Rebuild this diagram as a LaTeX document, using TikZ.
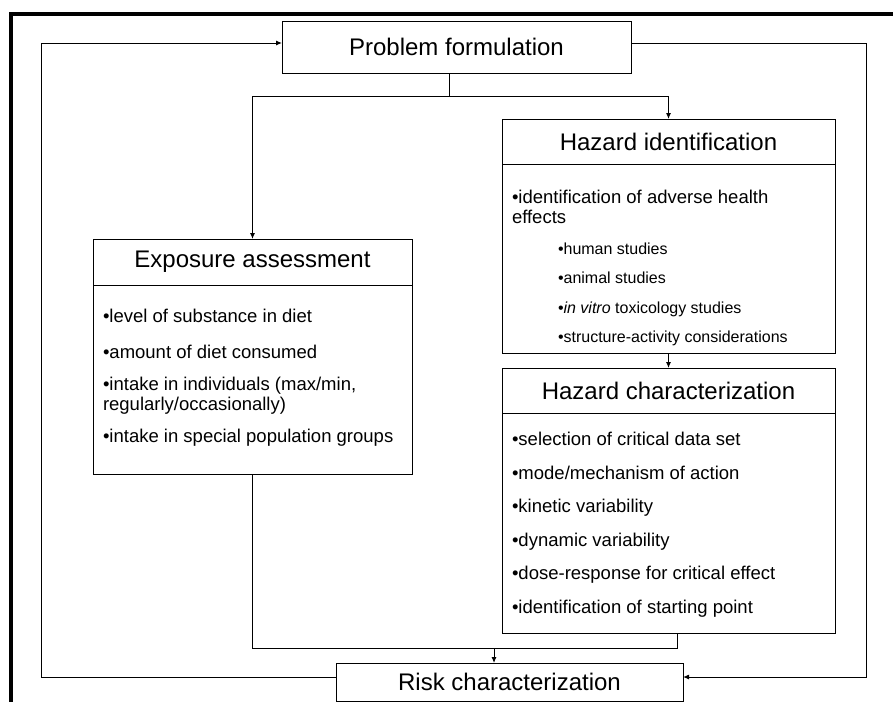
\documentclass[tikz,border=0pt]{standalone}
\usepackage{fontspec}
\setmainfont{Liberation Sans}
\usetikzlibrary{arrows.meta}

\begin{document}
\begin{tikzpicture}[x=1pt,y=-1pt,line width=1pt]
    \tikzstyle{every node}=[inner sep=0pt, outer sep=0pt]
    \tikzstyle{box}=[draw, rectangle, anchor=north west]
    \tikzstyle{head}=[box, font=\fontsize{24}{28}\selectfont]
    \tikzstyle{items}=[anchor=north west, align=left, font=\fontsize{18.5}{20}\selectfont]
    \tikzstyle{subitems}=[anchor=north west, align=left, font=\fontsize{16}{29.3}\selectfont]
    \tikzstyle{arr}=[-{Latex[length=6pt,width=5pt]}]

    \useasboundingbox (0,0) rectangle (893,702);

    \def\lw{319} % left column width
    \def\rw{333} % right column width

    % outer frame (only top and left show)
    \draw[line width=4pt] (893,14) -- (11,14) -- (11,702);

    \node[head, minimum width=349, minimum height=52] (prob) at (282,21) {Problem formulation};
    \node[head, minimum width=347, minimum height=38] (risk) at (336,663) {Risk characterization};

    % Exposure assessment
    \node[head, minimum width=\lw, minimum height=46] (expH) at (93,239) {Exposure assessment};
    \node[box, minimum width=\lw, minimum height=189] (expB) at (expH.south west) {};
    \node[items] (expT) at (103,309) {•level of substance in diet\\[16pt]
        •amount of diet consumed\\[12pt]
        •intake in individuals (max/min,\\
        regularly/occasionally)\\[12pt]
        •intake in special population groups};

    % Hazard identification
    \node[head, minimum width=\rw, minimum height=45] (hzidH) at (502,119) {Hazard identification};
    \node[box, minimum width=\rw, minimum height=189] (hzidB) at (hzidH.south west) {};
    \node[items] (hzidT) at (512,190) {•identification of adverse health\\effects};
    \node[subitems] (hzidS) at (558,243) {•human studies\\•animal studies\\
        •\textit{in vitro} toxicology studies\\•structure-activity considerations};

    % Hazard characterization
    \node[head, minimum width=\rw, minimum height=45] (hzchH) at (502,368) {Hazard characterization};
    \node[box, minimum width=\rw, minimum height=220] (hzchB) at (hzchH.south west) {};
    \node[items, font=\fontsize{18.5}{33.6}\selectfont] (hzchT) at (512,432) {•selection of critical data set\\
        •mode/mechanism of action\\•kinetic variability\\•dynamic variability\\
        •dose-response for critical effect\\•identification of starting point};

    % junctions of the connectors
    \coordinate (split) at (449,96);
    \coordinate (merge) at (494,648);
    \coordinate (mergeR) at (677,648);
    \coordinate (fbTop) at (41,43);
    \coordinate (fbRight) at (866,677);

    \draw (prob.south -| split) -- (split);
    \draw[arr] (split) -| (expH.north);
    \draw[arr] (split) -| (hzidH.north);
    \draw[arr] (hzidB.south) -- (hzchH.north);
    \draw (expB.south) |- (mergeR) -- (mergeR |- hzchB.south);
    \draw[arr] (merge) -- (merge |- risk.north);

    % feedback loops
    \draw[arr] (risk.west |- fbRight) -| (fbTop) -- (prob.west |- fbTop);
    \draw[arr] (prob.east |- fbTop) -| (fbRight) -- (risk.east |- fbRight);
\end{tikzpicture}
\end{document}
